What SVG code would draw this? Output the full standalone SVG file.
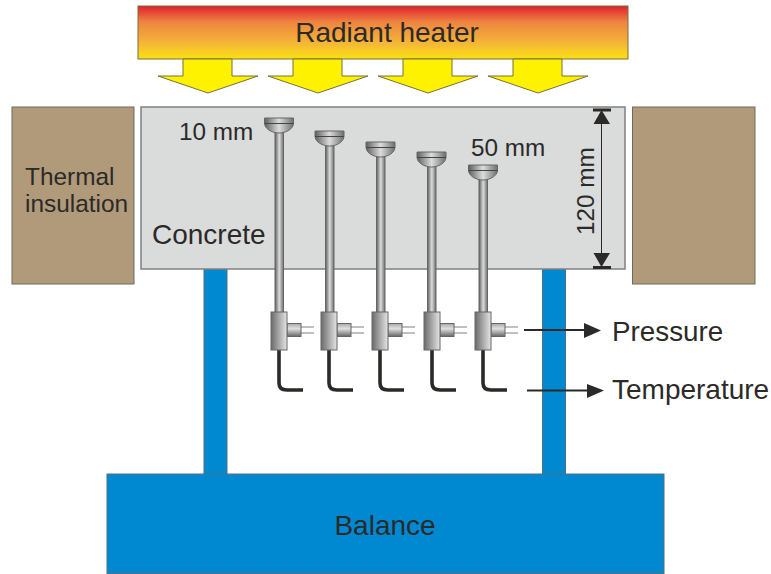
<svg xmlns="http://www.w3.org/2000/svg" xmlns:xlink="http://www.w3.org/1999/xlink" width="771" height="574" viewBox="0 0 771 574">
<style>
text{font-family:"Liberation Sans",Arial,sans-serif;fill:#2b2a29}
.ins{fill:#b09a7a;stroke:#6f6a60;stroke-width:1}
.blue{fill:#0088d0;stroke:#54707f;stroke-width:1}
.ar{fill:#fff200;stroke:#77703a;stroke-width:1}
.metal{stroke:#666;stroke-width:1}
.wire{fill:none;stroke:#808080;stroke-width:1}
.cable{fill:none;stroke:#2b2a29;stroke-width:3.600}
.ln{fill:none;stroke:#2b2a29;stroke-width:2}
.dk{fill:#2b2a29}
</style>
<defs>
<linearGradient id="heat" x1="0" y1="0" x2="0" y2="1"><stop offset="0" stop-color="#e0202f"/><stop offset=".3" stop-color="#ee8440"/><stop offset=".7" stop-color="#f4b638"/><stop offset="1" stop-color="#fbe010"/></linearGradient>
<linearGradient id="h" x1="0" y1="0" x2="1" y2="0"><stop offset="0" stop-color="#5e5e5e"/><stop offset=".5" stop-color="#dcdcdc"/><stop offset="1" stop-color="#6e6e6e"/></linearGradient>
<linearGradient id="b" x1="0" y1="0" x2="1" y2="0"><stop offset="0" stop-color="#6a6a6a"/><stop offset="1" stop-color="#e6e6e6"/></linearGradient>
<linearGradient id="v" x1="0" y1="0" x2="0" y2="1"><stop offset="0" stop-color="#a8a8a8"/><stop offset=".4" stop-color="#e0e0e0"/><stop offset="1" stop-color="#666"/></linearGradient>
<g id="arrow"><path class="ar" d="M25 59V76H0L50 93L100 76H74V59Z"/></g>
<g id="head">
<path class="metal" d="M-14.500 0H14.500V5C14.500 11 7 15 0 15C-7 15-14.500 11-14.500 5Z" fill="url(#h)"/>
<path d="M-14.500 5.500H14.500" stroke="#444" stroke-width="1"/>
</g>
<g id="foot">
<path class="wire" d="M22 -3H35M22 3H35"/>
<rect class="metal" x="8" y="-6.500" width="14" height="13" fill="url(#v)"/>
<path class="cable" d="M0 20V53Q0 60 8 60H24"/>
<rect class="metal" x="-8" y="-18" width="16" height="38" fill="url(#b)"/>
</g>
</defs>
<g id="heater"><rect x="138" y="6" width="490" height="53" fill="url(#heat)" stroke="#77703a"/><text x="387" y="42" font-size="28" text-anchor="middle">Radiant heater</text></g>
<g id="heat-arrows">
<use xlink:href="#arrow" x="158"/><use xlink:href="#arrow" x="268"/><use xlink:href="#arrow" x="378"/><use xlink:href="#arrow" x="488"/>
</g>
<g id="insulation-left"><rect class="ins" x="12" y="107" width="122" height="177"/><text x="25" y="185" font-size="24.400">Thermal</text><text x="25" y="212" font-size="24.400">insulation</text></g>
<g id="insulation-right"><rect class="ins" x="632.500" y="107" width="122.500" height="177"/></g>
<g id="support-left"><rect class="blue" x="204" y="269" width="23" height="206"/></g>
<g id="support-right"><rect class="blue" x="542.500" y="269" width="23" height="206"/></g>
<g id="concrete"><rect x="141" y="107" width="484" height="162" fill="#dadbdb" stroke="#7f8080" stroke-width="1.500"/><text x="152" y="244" font-size="28">Concrete</text><text x="179" y="140" font-size="24.300">10 mm</text><text x="471" y="156" font-size="24.300">50 mm</text></g>
<g id="balance"><rect class="blue" x="107" y="474" width="557" height="99.500"/><text x="385" y="535" font-size="28" text-anchor="middle">Balance</text></g>
<g id="sensor-1"><rect class="metal" x="275" y="125" width="8.500" height="188" fill="url(#h)"/><use xlink:href="#head" x="279" y="118"/><use xlink:href="#foot" x="279" y="330"/></g>
<g id="sensor-2"><rect class="metal" x="325.500" y="140" width="8.500" height="173" fill="url(#h)"/><use xlink:href="#head" x="329.500" y="131"/><use xlink:href="#foot" x="329" y="330"/></g>
<g id="sensor-3"><rect class="metal" x="376.500" y="150" width="8.500" height="163" fill="url(#h)"/><use xlink:href="#head" x="380.500" y="142"/><use xlink:href="#foot" x="380" y="330"/></g>
<g id="sensor-4"><rect class="metal" x="427.500" y="160" width="8.500" height="153" fill="url(#h)"/><use xlink:href="#head" x="431.500" y="152"/><use xlink:href="#foot" x="432" y="330"/></g>
<g id="sensor-5"><rect class="metal" x="479" y="173" width="8.500" height="140" fill="url(#h)"/><use xlink:href="#head" x="483" y="165"/><use xlink:href="#foot" x="483" y="330"/></g>
<g id="connectors">
<path class="ln" d="M524 330H588"/><path class="dk" d="M584 323L601 330.500L584 338Z"/>
<path class="ln" d="M527 390.500H590"/><path class="dk" d="M587 384L604 390.500L587 398Z"/>
<path d="M601.500 112V266" stroke="#2b2a29" stroke-width="1"/>
<path d="M593 110H611M593 267.500H611" stroke="#2b2a29" stroke-width="3" fill="none"/>
<path class="dk" d="M593.500 124L601.500 110L610 124ZM593.500 253L601.500 267L610 253Z"/>
</g>
<text x="612" y="341" font-size="27.800">Pressure</text>
<text x="612" y="399" font-size="28">Temperature</text>
<text transform="translate(594 235) rotate(-90)" font-size="24.300">120 mm</text>
</svg>
